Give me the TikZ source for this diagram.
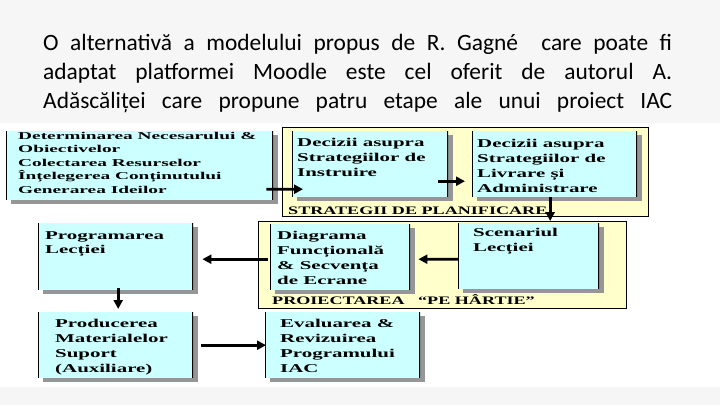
\documentclass[tikz,border=0pt]{standalone}
\usepackage{fontspec}
\usepackage{xcolor}
\usepackage{tikz}
\usetikzlibrary{arrows.meta,positioning,shadows}
\setmainfont{Carlito}
\newfontfamily\boxfont[FakeStretch=1.75]{Liberation Serif}
\newfontfamily\smallboxfont[FakeStretch=1.85]{Liberation Serif}
\newfontfamily\panelfont[FakeStretch=1.58]{Liberation Serif}
\definecolor{slidegray}{RGB}{246,246,246}
\definecolor{boxcyan}{RGB}{204,255,255}
\definecolor{panelyellow}{RGB}{255,255,204}
\definecolor{shadowgray}{RGB}{150,150,150}

\begin{document}
\begin{tikzpicture}[
  x=1bp, y=-1bp,
  intro/.style={anchor=base west, inner sep=0pt, align=left, font=\fontsize{23.5}{29}\selectfont},
  panel/.style 2 args={rectangle, anchor=north west, minimum width=#1bp, minimum height=#2bp, inner sep=0pt, fill=panelyellow, draw=black, line width=0.8bp},
  box/.style 2 args={rectangle, anchor=north west, minimum width=#1bp, minimum height=#2bp, inner sep=0pt, fill=boxcyan,
    drop shadow={shadow xshift=5bp, shadow yshift=-4bp, fill=shadowgray, opacity=1},
    path picture={\draw[line width=2.4bp] (path picture bounding box.north west) -- (path picture bounding box.south west)
      (path picture bounding box.north east) -- (path picture bounding box.south east);}},
  lbl/.style={anchor=north west, inner sep=0pt, align=left, font=\boxfont\bfseries\fontsize{12}{15}\selectfont},
  plbl/.style={anchor=south west, inner sep=0pt, font=\panelfont\bfseries\fontsize{11.5}{13}\selectfont},
  arrow/.style={-{Triangle[length=9bp,width=9bp]}, line width=2.6bp}
]
\useasboundingbox (0,0) rectangle (720,405);
\fill[slidegray] (0,0) rectangle (720,405);
\fill[white] (0,123) rectangle (720,387);

\node[intro] (intro) at (43,108) {\makebox[629bp][s]{O alternativă a modelului propus de R. Gagné \ care poate fi}\\
  \makebox[629bp][s]{adaptat platformei Moodle este cel oferit de autorul A.}\\
  \makebox[629bp][s]{Adăscăliței care propune patru etape ale unui proiect IAC}};

\node[panel={366}{89}, label={[plbl, xshift=6bp, yshift=2bp]south west:STRATEGII DE PLANIFICARE}] (strat) at (282,127) {};
\node[panel={368}{87}, label={[plbl, xshift=14bp, yshift=4bp]south west:PROIECTAREA \ \ “PE HÂRTIE”}] (proiect) at (258,221) {};

\node[box={267}{69}, label={[lbl, font=\smallboxfont\bfseries\fontsize{10.5}{13.5}\selectfont, xshift=12bp, yshift=-1bp]north west:{Determinarea Necesarului \&\\Obiectivelor\\Colectarea Resurselor\\Înțelegerea Conținutului\\Generarea Ideilor}}] (determ) at (6,131) {};
\node[box={156}{66}, label={[lbl, xshift=5bp, yshift=-7bp]north west:{Decizii asupra\\Strategiilor de\\Instruire}}] (instr) at (292,131) {};
\node[box={165}{66}, label={[lbl, xshift=5bp, yshift=-8bp]north west:{Decizii asupra\\Strategiilor de\\Livrare și\\Administrare}}] (livr) at (472,131) {};
\node[box={140}{66}, label={[lbl, xshift=7bp, yshift=-7bp]north west:{Diagrama\\Funcțională\\\& Secvența\\de Ecrane}}] (diag) at (270,224) {};
\node[box={141}{66}, label={[lbl, xshift=15bp, yshift=-5bp]north west:{Scenariul\\Lecției}}] (scen) at (458,223) {};
\node[box={155}{67}, label={[lbl, xshift=7bp, yshift=-8bp]north west:{Programarea\\Lecției}}] (prog) at (38,223) {};
\node[box={155}{66}, label={[lbl, xshift=17bp, yshift=-7bp]north west:{Producerea\\Materialelor\\Suport\\(Auxiliare)}}] (prod) at (38,312) {};
\node[box={155}{66}, label={[lbl, xshift=15bp, yshift=-7bp]north west:{Evaluarea \&\\Revizuirea\\Programului\\IAC}}] (eval) at (265,312) {};

\draw[arrow] ([xshift=-7bp,yshift=-23.5bp]determ.east) -- ([xshift=11bp,yshift=-25bp]instr.west);
\draw[arrow] ([xshift=-10bp,yshift=-17bp]instr.east) -- ([xshift=-7bp,yshift=-17bp]livr.west);
\draw[arrow] ([xshift=-4.5bp]livr.south) -- ([xshift=-4.5bp]livr.south |- proiect.north);
\draw[arrow] ([yshift=-3bp]scen.west) -- ([xshift=8bp,yshift=-2bp]diag.east);
\draw[arrow] ([xshift=-2bp,yshift=-2bp]diag.west) -- ([xshift=9bp,yshift=-2.5bp]prog.east);
\draw[arrow] ([xshift=2.5bp,yshift=2bp]prog.south) -- ([xshift=2.5bp,yshift=3bp]prod.north);
\draw[arrow] ([xshift=8bp]prod.east) -- ([xshift=1bp]eval.west);
\end{tikzpicture}
\end{document}
